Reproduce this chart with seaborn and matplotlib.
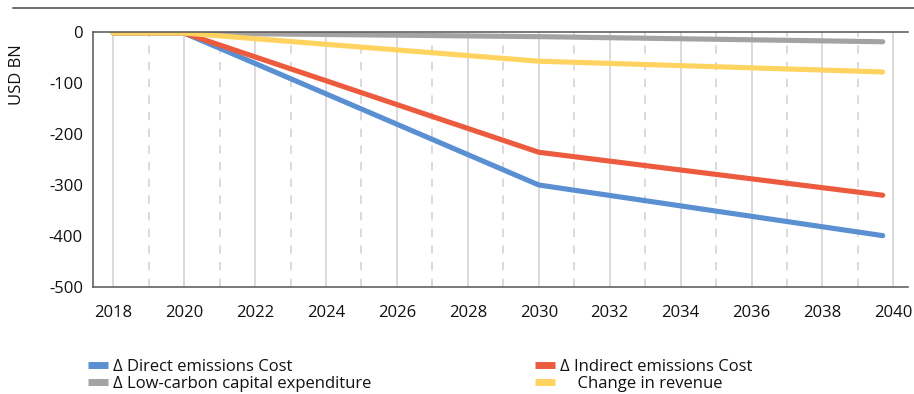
import matplotlib
matplotlib.use("Agg")
import matplotlib.pyplot as plt
from matplotlib.lines import Line2D
from matplotlib import font_manager
import seaborn as sns
import pandas as pd
import numpy as np

# ---- data ----
years = [2018, 2020, 2030, 2039.7]
direct_cost = [-3, -3, -300, -399]
indirect_cost = [-3, -3, -236, -320]
lowcarbon_capex = [-3, -3, -10, -20]
revenue_change = [-3, -3, -58, -79]

series_names = ["\u2206 Direct emissions Cost", "\u2206 Indirect emissions Cost",
                "\u2206 Low-carbon capital expenditure", "    Change in revenue"]
series_colors = ["#5A8FD2", "#EC5B3E", "#A3A3A3", "#FFD35F"]
x_ticks = list(range(2018, 2041, 2))
y_ticks = [0, -100, -200, -300, -400, -500]
y_label = "USD BN"

# ---- long-format table ----
frames = []
for name, vals in zip(series_names, [direct_cost, indirect_cost, lowcarbon_capex, revenue_change]):
    frames.append(pd.DataFrame({"year": years, "value": vals, "series": name}))
df = pd.concat(frames, ignore_index=True)

sns.set_theme(style="white")
avail = {f.name for f in font_manager.fontManager.ttflist}
main_font = "Open Sans" if "Open Sans" in avail else "DejaVu Sans"
plt.rcParams["font.family"] = [main_font, "DejaVu Sans"]

fig = plt.figure(figsize=(9.14, 3.94), dpi=100)
ax = fig.add_axes([0.1014, 0.2708, 0.8923, 0.6492])

# vertical gridlines: solid at even years, dashed at odd years
for yr in range(2018, 2041):
    if yr % 2 == 0:
        ax.axvline(yr, color="#D4D4D4", lw=1.2, zorder=0)
    else:
        ax.axvline(yr, color="#D4D4D4", lw=1.2, ls=(0, (5, 5)), zorder=0)

palette = dict(zip(series_names, series_colors))
sns.lineplot(data=df, x="year", y="value", hue="series", hue_order=series_names,
             palette=palette, lw=3.7, legend=False, ax=ax, sort=False)
for ln in ax.get_lines():
    ln.set_solid_capstyle("round")
    ln.set_solid_joinstyle("round")

ax.set_xlim(2017.42, 2040.42)
ax.set_ylim(-500, 0)
ax.set_xticks(x_ticks)
ax.set_xticklabels([str(t) for t in x_ticks])
ax.set_yticks(y_ticks)
ax.set_yticklabels([str(t) for t in y_ticks])
ax.tick_params(axis="x", length=0, pad=13, labelsize=12, colors="#111111")
ax.tick_params(axis="y", length=0, pad=7, labelsize=12, colors="#111111")
ax.set_xlabel("")
ax.set_ylabel("")

for side in ["left", "bottom", "top"]:
    ax.spines[side].set_visible(True)
    ax.spines[side].set_color("#555555")
    ax.spines[side].set_linewidth(1.1)
ax.spines["right"].set_visible(False)

fig.text(17 / 914, 1 - 75 / 394, y_label, rotation=90, ha="center", va="center",
         fontsize=12, color="#111111")

# top rule line (header separator)
fig.add_artist(Line2D([13 / 914, 1.0], [1 - 8 / 394, 1 - 8 / 394],
                      color="#707070", lw=1.4, transform=fig.transFigure))

handles = [Line2D([0], [0], color=c, lw=5, solid_capstyle="butt") for c in series_colors]
order = [0, 2, 1, 3]
leg = fig.legend([handles[i] for i in order], [series_names[i] for i in order],
                 ncol=2, loc="upper left", bbox_to_anchor=(88 / 914, 1 - 359 / 394),
                 frameon=False, handlelength=1.2, handletextpad=0.3, borderpad=0,
                 borderaxespad=0, columnspacing=9.8, labelspacing=0.05,
                 prop={"family": main_font, "size": 12})
for t in leg.get_texts():
    t.set_color("#111111")

fig.savefig("out.png", dpi=100)
